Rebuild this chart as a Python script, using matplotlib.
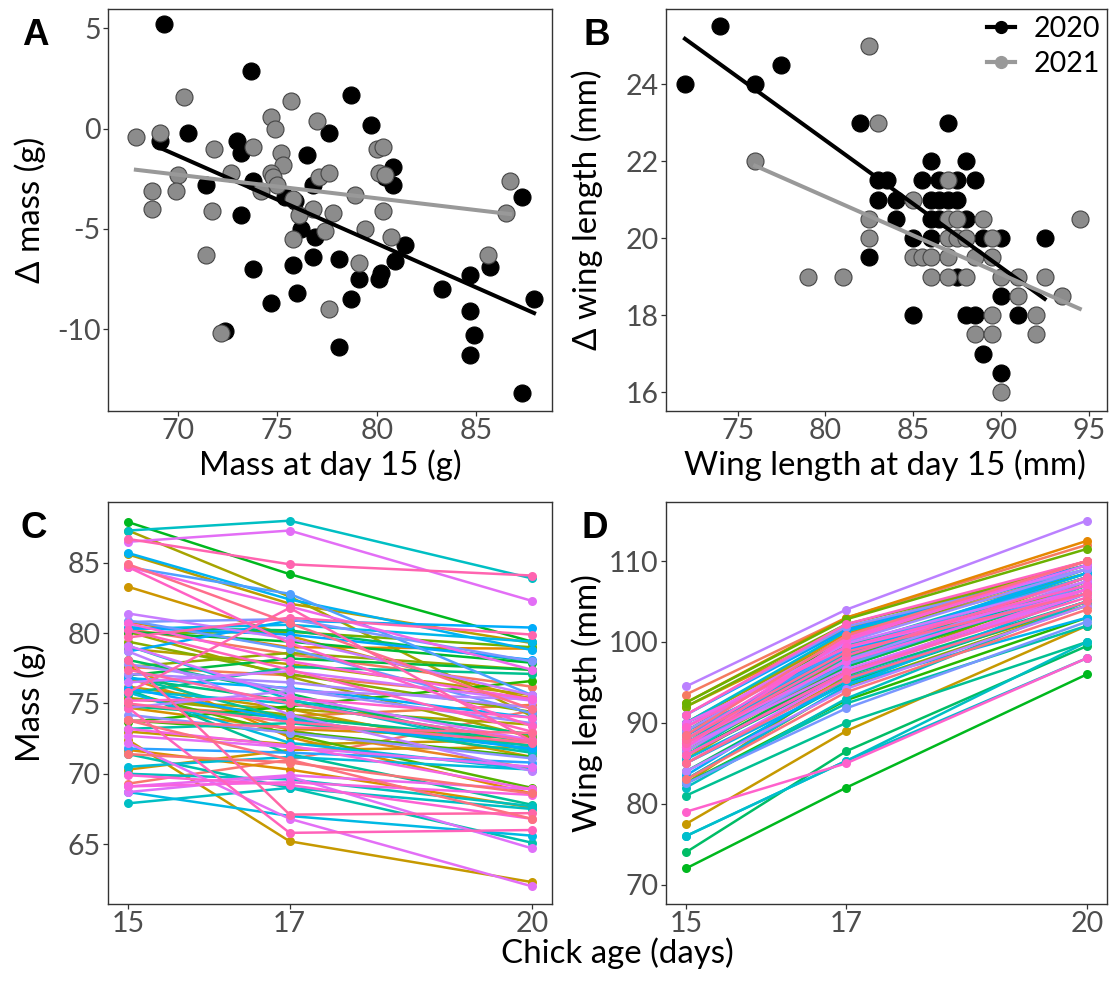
import numpy as np
import matplotlib
matplotlib.use("Agg")
import matplotlib.pyplot as plt
from matplotlib.lines import Line2D

W, H = 1112, 985
TICK = "#4d4d4d"
FRAME = "#333333"
plt.rcParams["font.family"] = ["Lato", "DejaVu Sans"]
plt.rcParams["axes.unicode_minus"] = False

AGES = [15, 17, 20]

# ---- mass (panels A and C): mass at day 15, day 17, and change day 15 -> 20
mass15_2020 = [69.3, 73.7, 78.7, 79.7, 77.6, 70.5, 69.1, 73.0, 73.2, 76.5, 80.8,
               80.4, 80.8, 71.4, 73.8, 76.8, 87.3, 75.4, 75.9, 73.2, 76.2, 76.9,
               81.4, 76.8, 78.1, 80.9, 73.8, 75.8, 85.7, 80.2, 80.1, 79.1, 84.7,
               83.3, 76.0, 78.7, 87.9, 74.7, 84.7, 84.9, 72.4, 78.1, 84.7, 87.3]
dmass_2020 = [5.2, 2.9, 1.7, 0.2, -0.2, -0.2, -0.6, -0.6, -1.2, -1.3, -1.9,
              -2.4, -2.8, -2.8, -2.6, -2.8, -3.4, -3.4, -3.6, -4.3, -5.0, -5.4,
              -5.8, -6.4, -6.5, -6.6, -7.0, -6.8, -6.9, -7.2, -7.5, -7.5, -7.3,
              -8.0, -8.2, -8.5, -8.5, -8.7, -9.1, -10.3, -10.1, -10.9, -11.3, -13.2]
mass17_2020 = [71.0, 74.8, 80.9, 81.1, 78.6, 71.2, 69.4, 72.1, 73.6, 77.3, 79.0,
               80.2, 81.0, 70.8, 73.0, 76.1, 88.0, 74.2, 75.0, 72.0, 74.6, 73.9,
               79.6, 73.1, 75.7, 78.9, 71.0, 72.8, 82.4, 77.4, 76.9, 75.3, 81.9,
               79.8, 71.4, 74.2, 84.2, 65.8, 82.8, 80.7, 65.2, 67.1, 79.3, 82.6]

mass15_2021 = [67.9, 69.1, 70.3, 75.7, 74.7, 74.9, 77.0, 71.8, 73.8, 80.0, 80.3,
               75.2, 75.3, 70.0, 72.7, 74.7, 74.8, 77.1, 77.6, 80.1, 80.4, 75.0,
               86.7, 68.7, 69.9, 78.9, 75.8, 68.7, 71.7, 76.8, 77.8, 80.3, 86.5,
               76.1, 77.4, 79.4, 75.8, 80.7, 85.6, 71.4, 79.1, 77.6, 72.2, 74.2]
dmass_2021 = [-0.4, -0.2, 1.6, 1.4, 0.6, 0.0, 0.4, -1.0, -0.9, -1.0, -0.9,
              -1.2, -1.8, -2.3, -2.2, -2.2, -2.4, -2.4, -2.2, -2.2, -2.3, -2.8,
              -2.6, -3.1, -3.1, -3.3, -3.5, -4.0, -4.1, -4.0, -4.2, -4.1, -4.2,
              -4.3, -5.1, -5.0, -5.5, -5.4, -6.3, -6.3, -6.7, -9.0, -10.2, -3.1]
mass17_2021 = [69.0, 69.9, 71.7, 77.6, 75.9, 74.1, 78.2, 71.5, 73.3, 80.1, 80.6,
               75.4, 74.6, 69.6, 71.9, 73.2, 74.0, 76.5, 77.0, 79.4, 79.9, 73.7,
               84.9, 67.0, 69.2, 77.8, 81.8, 69.8, 70.3, 75.2, 76.0, 78.5, 87.3,
               73.8, 75.0, 77.1, 72.2, 78.0, 82.1, 69.0, 75.5, 72.6, 66.8, 72.9]

# ---- wing length (panels B and D)
wing15_2020 = [72, 74, 76, 77.5, 82, 87, 83, 83.5, 83, 84, 84, 85.5, 86, 88, 86.5,
               87.5, 88.5, 86, 86.5, 87, 87.5, 86, 86.5, 88, 85, 86, 89, 90, 82.5,
               87.5, 90, 85, 88, 88.5, 91, 92.5, 89, 90]
dwing_2020 = [24, 25.5, 24, 24.5, 23, 23, 21.5, 21.5, 21, 21, 20.5, 21.5, 22, 22,
              21.5, 21.5, 21.5, 21, 21, 21, 21, 20.5, 20.5, 20.5, 20, 20, 20, 20,
              19.5, 19, 18.5, 18, 18, 18, 18, 20, 17, 16.5]
wing17_2020 = [82, 86.5, 85.3, 89, 93, 100.5, 94.5, 95.5, 93.8, 95, 94.2, 97.5,
               98.6, 100.2, 98, 99, 100.8, 96.9, 97.8, 98.2, 99.5, 96.2, 97.2, 99.1,
               95.4, 96.5, 100, 101, 92.4, 97.6, 100.6, 94.8, 98.8, 98.4, 101.9,
               103, 98, 99.3]

wing15_2021 = [82.5, 83, 76, 82.5, 82.5, 79, 81, 85, 87, 87, 87.5, 89, 87, 87.5,
               88, 89.5, 85, 85.5, 86, 87, 88.5, 89.5, 86, 87, 88, 90, 91, 92.5,
               91, 93.5, 94.5, 89.5, 92, 88.5, 89.5, 92, 90]
dwing_2021 = [25, 23, 22, 20.5, 20, 19, 19, 21, 21.5, 20.5, 20.5, 20.5, 20, 20,
              20, 20, 19.5, 19.5, 19.5, 19.5, 19.5, 19.5, 19, 19, 19, 19, 19, 19,
              18.5, 18.5, 20.5, 18, 18, 17.5, 17.5, 17.5, 16]
wing17_2021 = [95.8, 94.6, 85.3, 92.8, 91.8, 85.0, 90, 96, 98.8, 97.5, 98.3, 100.4,
               97.2, 98, 99.6, 100.5, 95.6, 95.2, 96.3, 97, 99.2, 100.3, 95.9, 96.6,
               98.2, 101.3, 102.2, 102.8, 101.5, 103, 104, 99.8, 101.6, 98.5, 99.4,
               102.2, 99]

# hue (degrees) of a few conspicuous chick lines; the rest get spread hues
HUE_FIX_C = {16: 195, 76: 300, 66: 345, 36: 130, 40: 65, 86: 300, 70: 345,
             37: 340, 41: 350}
HUE_FIX_D = {0: 130, 40: 200, 3: 65, 43: 330, 68: 280, 2: 195}


def hcl(h, c=100.0, l=65.0):
    # polar LUV -> sRGB, as ggplot2's hue palette
    xn, yn, zn = 95.047, 100.0, 108.883
    un = 4 * xn / (xn + 15 * yn + 3 * zn)
    vn = 9 * yn / (xn + 15 * yn + 3 * zn)
    y = yn * ((l + 16) / 116) ** 3
    u = c * np.cos(np.radians(h))
    v = c * np.sin(np.radians(h))
    up = u / (13 * l) + un
    vp = v / (13 * l) + vn
    x = 9 * y * up / (4 * vp)
    z = -x / 3 - 5 * y + 3 * y / vp
    m = np.array([[3.240479, -1.537150, -0.498535],
                  [-0.969256, 1.875992, 0.041556],
                  [0.055648, -0.204043, 1.057311]])
    rgb = m @ (np.array([x, y, z]) / 100)
    rgb = np.where(rgb <= 0.0031308, 12.92 * rgb,
                   1.055 * np.abs(rgb) ** (1 / 2.4) - 0.055)
    return tuple(np.clip(rgb, 0, 1))


fig = plt.figure(figsize=(W / 100, H / 100), dpi=100)
fig.patch.set_facecolor("white")


def panel(l, t, r, b):
    ax = fig.add_axes([l / W, 1 - b / H, (r - l) / W, (b - t) / H])
    for s in ax.spines.values():
        s.set_color(FRAME)
        s.set_linewidth(1.0)
    ax.tick_params(direction="out", length=3.8, width=0.9, color=FRAME,
                   labelcolor=TICK, labelsize=20.5, pad=1.5)
    return ax


def scatter_panel(ax, x20, y20, x21, y21):
    ax.scatter(x20, y20, s=150, c="black", edgecolors="black", linewidths=0.8,
               zorder=2)
    ax.scatter(x21, y21, s=150, c="#8c8c8c", edgecolors="#454545",
               linewidths=0.8, zorder=3)
    for x, y, col in ((x20, y20, "black"), (x21, y21, "#999999")):
        k, m = np.polyfit(x, y, 1)
        xs = np.array([min(x), max(x)])
        ax.plot(xs, k * xs + m, color=col, lw=2.9, zorder=4)


def lines_panel(ax, d15, d17, d20, stride, fixed):
    n = len(d15)
    hues = {i: 15 + 360 * ((i * stride) % n) / n for i in range(n)}
    hues.update(fixed)
    for i in sorted(range(n), key=lambda i: hues[i] % 375):
        ax.plot(AGES, [d15[i], d17[i], d20[i]], color=hcl(hues[i]), lw=1.8,
                marker="o", ms=6.5, mec="none", solid_capstyle="round")


# ---------------------------------------------------------------- A
axA = panel(108, 9, 552, 411)
scatter_panel(axA, mass15_2020, dmass_2020, mass15_2021, dmass_2021)
axA.set_xlim(66.5, 88.8)
axA.set_ylim(-14.08, 5.97)
axA.set_xticks([70, 75, 80, 85])
axA.set_yticks([-10, -5, 0, 5])

# ---------------------------------------------------------------- B
axB = panel(666, 9, 1107, 411)
scatter_panel(axB, wing15_2020, dwing_2020, wing15_2021, dwing_2021)
axB.set_xlim(70.92, 96.05)
axB.set_ylim(15.51, 25.95)
axB.set_xticks([75, 80, 85, 90, 95])
axB.set_yticks([16, 18, 20, 22, 24])
handles = [Line2D([], [], color="black", lw=3, marker="o", ms=8.5),
           Line2D([], [], color="#999999", lw=3, marker="o", ms=8.5)]
axB.legend(handles, ["2020", "2021"], loc="upper right",
           bbox_to_anchor=(1100 / W, 1 - 16 / H), bbox_transform=fig.transFigure,
           frameon=False, fontsize=20.5, handlelength=1.0, handletextpad=0.65,
           labelspacing=0.32, borderaxespad=0.0, borderpad=0.0)

# ---------------------------------------------------------------- C
axC = panel(108, 502, 552, 904)
m15 = mass15_2020 + mass15_2021
m17 = mass17_2020 + mass17_2021
m20 = list(np.add(mass15_2020, dmass_2020)) + list(np.add(mass15_2021, dmass_2021))
lines_panel(axC, m15, m17, m20, 27, HUE_FIX_C)
axC.set_xlim(14.75, 20.25)
axC.set_ylim(60.74, 89.33)
axC.set_xticks(AGES)
axC.set_yticks([65, 70, 75, 80, 85])

# ---------------------------------------------------------------- D
axD = panel(666, 502, 1107, 904)
w15 = wing15_2020 + wing15_2021
w17 = wing17_2020 + wing17_2021
w20 = list(np.add(wing15_2020, dwing_2020)) + list(np.add(wing15_2021, dwing_2021))
lines_panel(axD, w15, w17, w20, 28, HUE_FIX_D)
axD.set_xlim(14.75, 20.25)
axD.set_ylim(67.6, 117.3)
axD.set_xticks(AGES)
axD.set_yticks([70, 80, 90, 100, 110])

# ---------------------------------------------------------------- text
TITLE = 23.8
fig.text(330 / W, 1 - 475 / H, "Mass at day 15 (g)", ha="center",
         va="baseline", fontsize=TITLE)
fig.text(885 / W, 1 - 475 / H, "Wing length at day 15 (mm)", ha="center",
         va="baseline", fontsize=TITLE)
fig.text(617 / W, 1 - 963 / H, "Chick age (days)", ha="center",
         va="baseline", fontsize=TITLE)
fig.text(30 / W, 1 - 210 / H, "Δ mass (g)", rotation=90, ha="center",
         va="center", fontsize=TITLE)
fig.text(587 / W, 1 - 210 / H, "Δ wing length (mm)", rotation=90,
         ha="center", va="center", fontsize=TITLE)
fig.text(30 / W, 1 - 703 / H, "Mass (g)", rotation=90, ha="center",
         va="center", fontsize=TITLE)
fig.text(587 / W, 1 - 703 / H, "Wing length (mm)", rotation=90,
         ha="center", va="center", fontsize=TITLE)
for lab, x, y in (("A", 22, 45), ("B", 583, 45), ("C", 21, 538), ("D", 581, 538)):
    fig.text(x / W, 1 - y / H, lab, ha="left", va="baseline", fontsize=26.5,
             fontweight="bold", family="Liberation Sans")

fig.savefig("out.png", dpi=100, facecolor="white")
